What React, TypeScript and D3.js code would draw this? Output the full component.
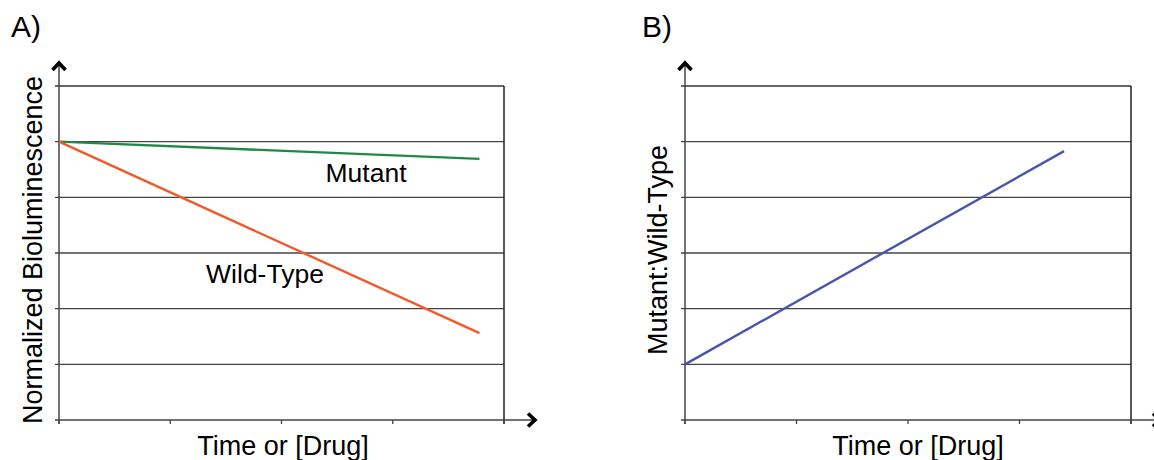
import React from "react";
import * as d3 from "d3";

// Schematic bioluminescence response curves
const xTicks = [0, 1, 2, 3, 4];
const yLevels = [0, 1, 2, 3, 4, 5, 6];

const mutantPoints: [number, number][] = [[0, 5], [3.78, 4.69]];
const wildTypePoints: [number, number][] = [[0, 5], [3.78, 1.56]];
const ratioPoints: [number, number][] = [[0, 1], [3.4, 4.83]];

const xAxisTitle = "Time or [Drug]";
const panelATitle = "A)";
const panelBTitle = "B)";
const panelAYTitle = "Normalized Bioluminescence";
const panelBYTitle = "Mutant:Wild-Type";

const FONT = "'Liberation Sans', Arial, Helvetica, sans-serif";
const GREEN = "#1f8a45";
const ORANGE = "#f15a2a";
const BLUE = "#4a56aa";

type Series = { points: [number, number][]; color: string };
type Label = { text: string; x: number; y: number };

function Panel({
  left,
  right,
  title,
  titleX,
  yTitle,
  yTitleX,
  xTitleX,
  arrowX,
  series,
  labels,
}: {
  left: number;
  right: number;
  title: string;
  titleX: number;
  yTitle: string;
  yTitleX: number;
  xTitleX: number;
  arrowX: number;
  series: Series[];
  labels: Label[];
}) {
  const top = 86;
  const bottom = 420;
  const x = d3.scaleLinear().domain([0, 4]).range([left, right]);
  const y = d3.scaleLinear().domain([0, 6]).range([bottom, top]);
  const line = d3
    .line<[number, number]>()
    .x((d) => x(d[0]))
    .y((d) => y(d[1]));

  return (
    <g>
      <text x={titleX} y={37} fontFamily={FONT} fontSize={30} fill="#000">
        {title}
      </text>
      {/* horizontal gridlines with small left ticks */}
      {yLevels.slice(1).map((v) => (
        <line
          key={v}
          x1={left - 4}
          x2={right}
          y1={y(v)}
          y2={y(v)}
          stroke={v === 6 ? "#333" : "#444"}
          strokeWidth={1.3}
        />
      ))}
      {/* right border */}
      <line x1={right} x2={right} y1={top} y2={bottom + 4} stroke="#222" strokeWidth={1.5} />
      {/* x ticks */}
      {xTicks.map((t) => (
        <line key={t} x1={x(t)} x2={x(t)} y1={bottom} y2={bottom + 4} stroke="#444" strokeWidth={1.3} />
      ))}
      {/* axes */}
      <line x1={left - 4} x2={arrowX - 2} y1={bottom} y2={bottom} stroke="#444" strokeWidth={1.5} />
      <line x1={left} x2={left} y1={bottom + 4} y2={top - 23} stroke="#444" strokeWidth={1.5} />
      <path
        d={`M${left - 6.5},${top - 16} L${left},${top - 23} L${left + 6.5},${top - 16}`}
        fill="none"
        stroke="#000"
        strokeWidth={3.6}
      />
      <path
        d={`M${arrowX - 7},${bottom - 6.5} L${arrowX},${bottom} L${arrowX - 7},${bottom + 6.5}`}
        fill="none"
        stroke="#000"
        strokeWidth={3.6}
      />
      {series.map((s, i) => (
        <path key={i} d={line(s.points) ?? ""} fill="none" stroke={s.color} strokeWidth={2.4} />
      ))}
      {labels.map((l) => (
        <text key={l.text} x={l.x} y={l.y} fontFamily={FONT} fontSize={26.5} fill="#000" textAnchor="middle">
          {l.text}
        </text>
      ))}
      <text x={xTitleX} y={455} fontFamily={FONT} fontSize={27} fill="#000" textAnchor="middle">
        {xAxisTitle}
      </text>
      <text
        transform={`translate(${yTitleX},250) rotate(-90)`}
        fontFamily={FONT}
        fontSize={27}
        fill="#000"
        textAnchor="middle"
      >
        {yTitle}
      </text>
    </g>
  );
}

export default function App() {
  return (
    <svg
      width={1154}
      height={460}
      style={{ position: "absolute", left: 0, top: 0, background: "#fff" }}
    >
      <Panel
        left={59}
        right={504}
        title={panelATitle}
        titleX={11}
        yTitle={panelAYTitle}
        yTitleX={42}
        xTitleX={283}
        arrowX={535}
        series={[
          { points: mutantPoints, color: GREEN },
          { points: wildTypePoints, color: ORANGE },
        ]}
        labels={[
          { text: "Mutant", x: 366, y: 182 },
          { text: "Wild-Type", x: 265, y: 283 },
        ]}
      />
      <Panel
        left={685}
        right={1131}
        title={panelBTitle}
        titleX={642}
        yTitle={panelBYTitle}
        yTitleX={667}
        xTitleX={918}
        arrowX={1160}
        series={[{ points: ratioPoints, color: BLUE }]}
        labels={[]}
      />
    </svg>
  );
}
